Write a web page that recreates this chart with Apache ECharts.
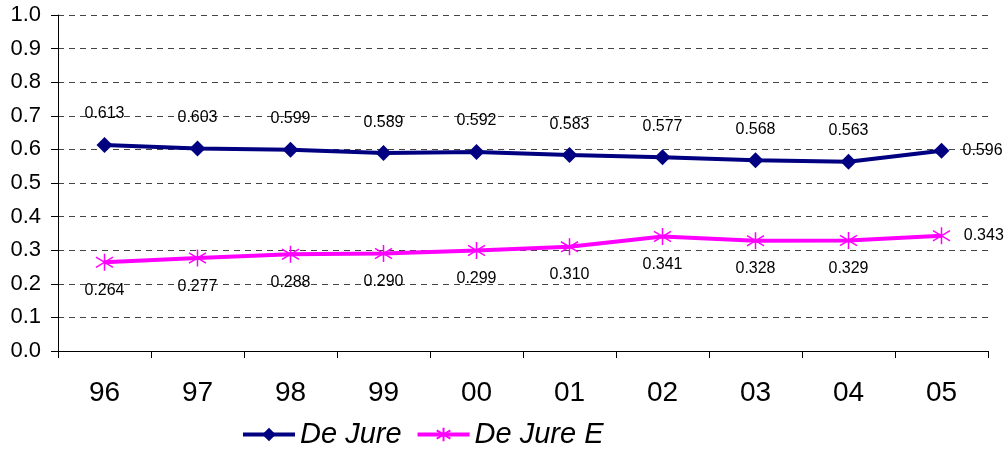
<!DOCTYPE html>
<html><head><meta charset="utf-8">
<script src="https://cdn.jsdelivr.net/npm/echarts@6/dist/echarts.min.js"></script>
<style>html,body{margin:0;padding:0;background:#fff}#c{width:1008px;height:450px}</style>
</head><body><div id="c"></div>
<script>
var categories = ['96','97','98','99','00','01','02','03','04','05'];
var deJure = [0.613,0.603,0.599,0.589,0.592,0.583,0.577,0.568,0.563,0.596];
var deJureE = [0.264,0.277,0.288,0.290,0.299,0.310,0.341,0.328,0.329,0.343];
var seriesNames = ['De Jure','De Jure E'];

var FONT = '"Liberation Sans", Arial, sans-serif';
function mkData(vals) {
  return vals.map(function (v, i) {
    var d = { value: v };
    if (i === vals.length - 1) d.label = { position: 'right', distance: 13 };
    return d;
  });
}
var star = 'path://M10,0L10,20M1,4L19,16M1,16L19,4';
var chart = echarts.init(document.getElementById('c'));
chart.setOption({
  animation: false,
  backgroundColor: '#fff',
  grid: { left: 58, right: 20, top: 15, bottom: 99 },
  legend: {
    top: 415, left: 236, itemWidth: 52, itemHeight: 17, itemGap: 14,
    textStyle: { fontFamily: FONT, fontSize: 29, fontStyle: 'italic', color: '#000' },
    data: [
      { name: seriesNames[0], lineStyle: { width: 4 } },
      { name: seriesNames[1], lineStyle: { width: 4 } }
    ]
  },
  xAxis: {
    type: 'category', data: categories, boundaryGap: true,
    axisLine: { lineStyle: { color: '#000', width: 1 } },
    axisTick: { show: true, length: 7, inside: false, lineStyle: { color: '#000' } },
    axisLabel: { fontFamily: FONT, fontSize: 28, color: '#000', margin: 28 }
  },
  yAxis: {
    type: 'value', min: 0, max: 1, interval: 0.1,
    axisLine: { show: true, lineStyle: { color: '#000', width: 1 } },
    axisTick: { show: true, length: 7, lineStyle: { color: '#000' } },
    axisLabel: { fontFamily: FONT, fontSize: 22, color: '#000', margin: 17,
      formatter: function (v) { return v.toFixed(1); } },
    splitLine: { show: true, lineStyle: { color: '#444', type: [6, 5], width: 1 } }
  },
  series: [
    {
      name: seriesNames[0], type: 'line', data: mkData(deJure),
      symbol: 'diamond', symbolSize: 16, color: '#000080',
      lineStyle: { width: 4, color: '#000080' },
      itemStyle: { color: '#000080' },
      label: { show: true, position: 'top', distance: 15, fontFamily: FONT, fontSize: 16, color: '#000',
        formatter: function (p) { return p.value.toFixed(3); } }
    },
    {
      name: seriesNames[1], type: 'line', data: mkData(deJureE),
      symbol: star, symbolSize: 17, color: '#FF00FF',
      lineStyle: { width: 4, color: '#FF00FF' },
      itemStyle: { color: '#FF00FF', borderColor: '#FF00FF', borderWidth: 1.5 },
      label: { show: true, position: 'bottom', distance: 11, fontFamily: FONT, fontSize: 16, color: '#000',
        formatter: function (p) { return p.value.toFixed(3); } }
    }
  ]
});
</script></body></html>
